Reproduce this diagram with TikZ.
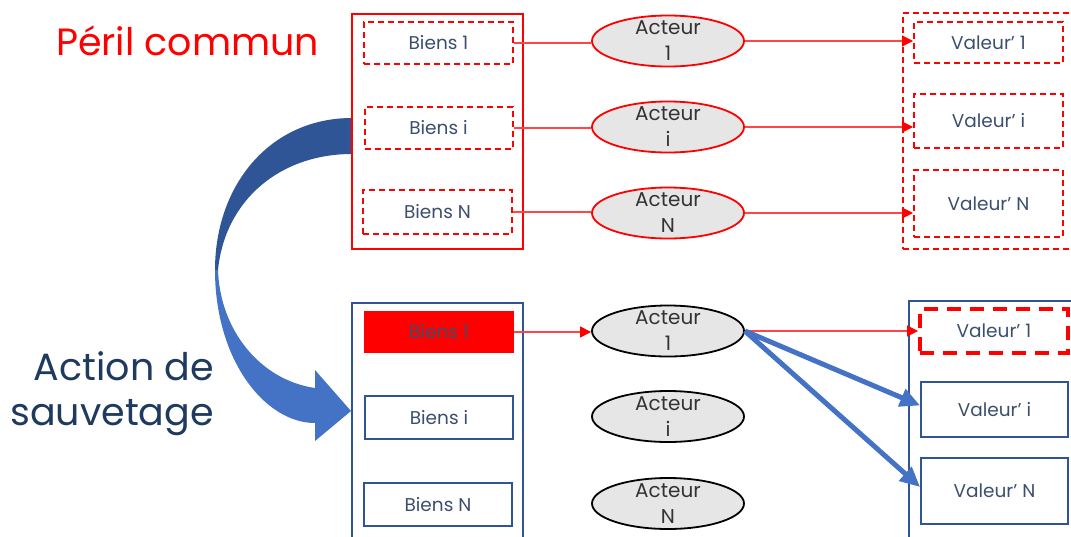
\documentclass[tikz,border=0pt]{standalone}
\usepackage{fontspec}
\setmainfont{Poppins}
\usetikzlibrary{shapes.geometric,arrows.meta}
\definecolor{pred}{RGB}{255,0,0}
\definecolor{lred}{RGB}{255,70,70}
\definecolor{bblue}{RGB}{47,85,151}
\definecolor{lblue}{RGB}{68,114,196}
\definecolor{txtblue}{RGB}{60,78,110}
\definecolor{titleblue}{RGB}{31,58,95}
\definecolor{egray}{RGB}{230,230,230}
\begin{document}
\begin{tikzpicture}[x=1pt,y=-1pt,
  box/.style={rectangle, inner sep=0pt, font=\fontsize{18.5}{22}\selectfont, text=txtblue},
  rdash/.style={box, draw=pred, line width=2pt, dash pattern=on 6pt off 4pt},
  bsolid/.style={box, draw=bblue, line width=1.8pt},
  actor/.style={ellipse, minimum width=152pt, minimum height=51pt, inner sep=0pt, fill=egray, line width=1.8pt,
     label={[font=\fontsize{20}{26}\selectfont, align=center, text=black!80]center:#1}},
  rarrow/.style={draw=lred, line width=1.2pt, -{Triangle[length=11pt,width=11pt,fill=pred,color=pred]}},
  barrow/.style={draw=lblue, line width=5pt, -{Triangle[length=20pt,width=18pt]}},
  title/.style={inner sep=0pt, font=\fontsize{38}{45}\selectfont}
]
\useasboundingbox (0,0) rectangle (1071,536);
\clip (0,0) rectangle (1071,536);

% titles
\node[title, text=pred, anchor=base west] (peril) at (56,55) {Péril commun};
\node[title, text=titleblue, align=right, anchor=base east] (action) at (214,425) {Action de\\sauvetage};

% curved arrow
\fill[bblue] (352,118) .. controls (270,118) and (215,185) .. (215,270)
   -- (218,270) .. controls (225,200) and (280,154) .. (352,154) -- cycle;
\fill[lblue] (215,270) .. controls (215,360) and (265,423) .. (315,423)
   -- (315,441) -- (351,411) -- (315,370) -- (315,388)
   .. controls (260,380) and (220,330) .. (218,270) -- cycle;

% top group
\node[draw=pred, line width=2pt, minimum width=171pt, minimum height=235pt] (outerT) at (437.5,131.5) {};
\node[rdash, minimum width=149pt, minimum height=42pt] (b1) at (438.5,43) {Biens 1};
\node[rdash, minimum width=148pt, minimum height=42pt] (bi) at (438.5,128) {Biens i};
\node[rdash, minimum width=149pt, minimum height=44pt] (bN) at (437.5,212) {Biens N};

\node[actor={Acteur\\1}, draw=pred] (a1) at (668,41) {};
\node[actor={Acteur\\i}, draw=pred] (ai) at (668,127) {};
\node[actor={Acteur\\N}, draw=pred] (aN) at (668,213) {};

\node[draw=pred, line width=2pt, dash pattern=on 6pt off 4pt, minimum width=180pt, minimum height=236pt] (outerVT) at (993,131) {};
\node[rdash, minimum width=149pt, minimum height=41pt] (v1) at (988.5,42.5) {Valeur' 1};
\node[rdash, minimum width=149pt, minimum height=54pt] (vi) at (988.5,121) {Valeur' i};
\node[rdash, minimum width=149pt, minimum height=67pt] (vN) at (988.5,203.5) {Valeur' N};

\draw[draw=lred, line width=1.2pt] (b1.east) -- (b1.east -| a1.west);
\draw[draw=lred, line width=1.2pt] (bi.east) -- (bi.east -| ai.west);
\draw[draw=lred, line width=1.2pt] (bN.east) -- (bN.east -| aN.west);
\draw[rarrow] (a1.east) -- (a1.east -| v1.west);
\draw[rarrow] (ai.east) -- (ai.east -| vi.west);
\draw[rarrow] (aN.east) -- (aN.east -| vN.west);

% bottom group
\node[draw=bblue, line width=1.8pt, minimum width=171pt, minimum height=257pt] (outerB) at (437.5,431.5) {};
\node[box, fill=pred, minimum width=150pt, minimum height=42pt] (B1) at (439,332) {Biens 1};
\node[bsolid, minimum width=148pt, minimum height=43pt] (Bi) at (439,417.5) {Biens i};
\node[bsolid, minimum width=148pt, minimum height=43pt] (BN) at (438,504.5) {Biens N};

\node[actor={Acteur\\1}, draw=black] (A1) at (668,331) {};
\node[actor={Acteur\\i}, draw=black] (Ai) at (668,416.5) {};
\node[actor={Acteur\\N}, draw=black] (AN) at (668,503.5) {};

\node[draw=bblue, line width=1.8pt, minimum width=181pt, minimum height=259pt] (outerVB) at (999.5,430.5) {};
\node[box, draw=pred, line width=4pt, dash pattern=on 14pt off 9pt, minimum width=148pt, minimum height=44pt] (V1) at (994,331) {Valeur' 1};
\node[bsolid, minimum width=147pt, minimum height=55pt] (Vi) at (994.5,409.5) {Valeur' i};
\node[bsolid, minimum width=147pt, minimum height=66pt] (VN) at (994.5,491) {Valeur' N};

\draw[rarrow] (B1.east) -- (B1.east -| A1.west);
\draw[rarrow] (A1.east) -- (A1.east -| V1.west);
\draw[barrow] (A1.east) -- ([yshift=4pt]Vi.west);
\draw[barrow] (A1.east) -- ([yshift=4pt]VN.west);
\end{tikzpicture}
\end{document}
